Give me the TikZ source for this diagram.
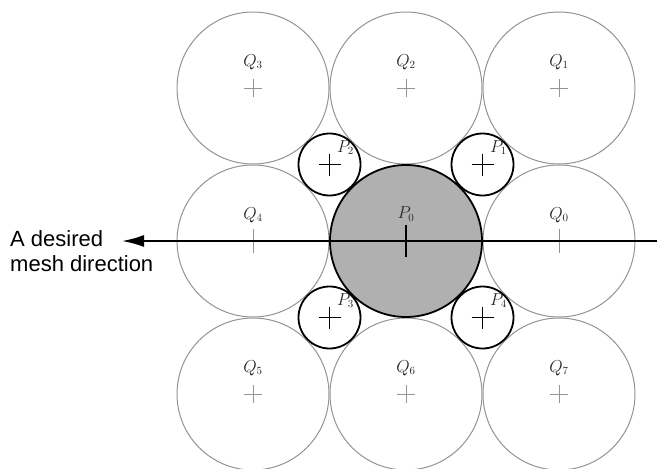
\documentclass[tikz,border=0pt]{standalone}
\usepackage{fontspec}
\newfontfamily\dirfont{Liberation Sans}
\usetikzlibrary{arrows.meta}

\begin{document}
\begin{tikzpicture}[x=1pt, y=-1pt,
    outer/.style={circle, draw=gray!85, line width=1pt, minimum size=152pt, inner sep=0pt},
    centre/.style={circle, draw=black, line width=1.8pt, fill=gray!62, minimum size=152pt, inner sep=0pt},
    gap/.style={circle, draw=black, line width=1.8pt, fill=white, minimum size=62pt, inner sep=0pt},
    qmark/.style={draw=gray!85, line width=1pt},
    pmark/.style={draw=black, line width=1.8pt},
    lab/.style={font=\fontsize{16}{18}\selectfont, inner sep=0pt, text=black!85}
]
    \useasboundingbox (0,0) rectangle (657,469);

    % outer ring
    \foreach \n/\x/\y in {3/253/88, 2/406/88, 1/559/88, 5/253/394, 6/406/394, 7/559/394} {
        \node[outer] (q\n) at (\x,\y) {};
        \draw[qmark] (q\n.center) +(-9,0) -- +(9,0) +(0,-9) -- +(0,9);
        \node[lab] (q\n lab) at ([yshift=26pt]q\n.center) {$Q_{\n}$};
    }
    \foreach \n/\x in {4/253, 0/559} {
        \node[outer] (q\n) at (\x,241) {};
        \draw[qmark] (q\n.center) +(0,-12) -- +(0,12);
        \node[lab] (q\n lab) at ([yshift=26pt]q\n.center) {$Q_{\n}$};
    }

    % centre and gaps
    \node[centre] (p0) at (406,241) {};
    \draw[pmark] (p0.center) +(0,-16) -- +(0,16);
    \node[lab] (p0lab) at ([yshift=27pt]p0.center) {$P_0$};
    \foreach \n/\x/\y in {2/329.5/164.5, 1/482.5/164.5, 3/329.5/317.5, 4/482.5/317.5} {
        \node[gap] (p\n) at (\x,\y) {};
        \draw[pmark] (p\n.center) +(-11,0) -- +(11,0) +(0,-11) -- +(0,11);
        \node[lab] (p\n lab) at ([xshift=16pt, yshift=17pt]p\n.center) {$P_{\n}$};
    }

    % direction
    \coordinate (edge) at (657,241);
    \coordinate (tip) at (122,241);
    \draw[line width=1.8pt, -{Latex[length=22pt, width=12pt]}] (edge) -- (tip);
    \node[font=\dirfont\fontsize{22}{25}\selectfont, align=left, anchor=north west, inner sep=0pt]
        (dirtext) at (10,230) {A desired\\mesh direction};
\end{tikzpicture}
\end{document}
